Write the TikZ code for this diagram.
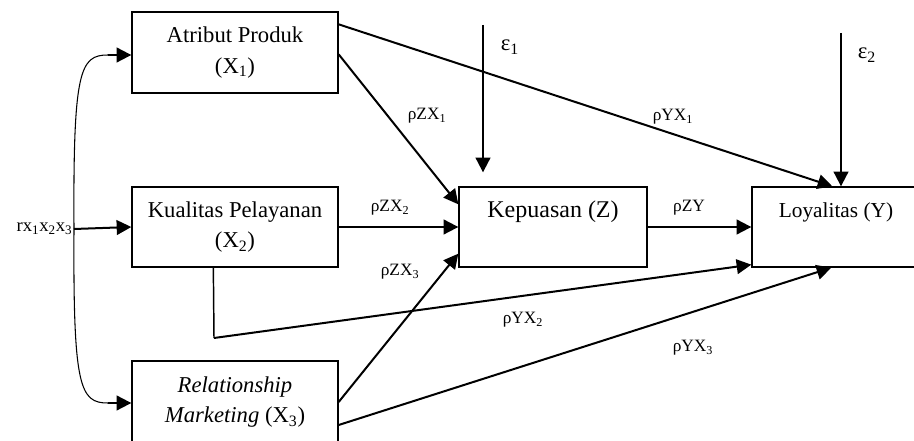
\documentclass[tikz,border=0pt]{standalone}
\usepackage{fontspec}
\setmainfont{Liberation Serif}
\usetikzlibrary{arrows.meta,calc}

\begin{document}
\begin{tikzpicture}[
  x=0.75pt,y=-0.75pt,
  box/.style={draw,line width=1pt,align=center,font=\fontsize{17}{23}\selectfont,inner sep=0pt},
  topbox/.style={text height=12pt,text depth=26pt},
  coef/.style={font=\fontsize{13}{15}\selectfont,inner sep=1pt},
  err/.style={font=\fontsize{17}{19}\selectfont,inner sep=1pt},
  arr/.style={-{Triangle[length=11pt,width=11pt]},line width=1.5pt},
  link/.style={line width=0.8pt}
]
  \useasboundingbox (0,0) rectangle (914,441);
  \fill[white] (0,0) rectangle (914,441);

  % Variables
  \node[box,minimum width=154.5pt,minimum height=60.75pt] (atr) at (235,52.5) {Atribut Produk\\(X\textsubscript{1})};
  \node[box,minimum width=154.5pt,minimum height=60pt] (kua) at (235,227) {Kualitas Pelayanan\\(X\textsubscript{2})};
  \node[box,minimum width=154.5pt,minimum height=61.5pt] (rel) at (235,402) {\textit{Relationship}\\\textit{Marketing} (X\textsubscript{3})};
  \node[box,topbox,font=\fontsize{18}{22}\selectfont,minimum width=141pt,minimum height=60pt] (kep) at (553,227) {Kepuasan (Z)};
  \node[box,topbox,font=\fontsize{16}{20}\selectfont,minimum width=126pt,minimum height=60pt] (loy) at (836,227) {Loyalitas (Y)};

  % Correlation
  \node[coef,font=\fontsize{14}{16}\selectfont,anchor=east] (rx) at (74,229) {rx\textsubscript{1}x\textsubscript{2}x\textsubscript{3}};
  \coordinate (c1) at (108,55);
  \coordinate (c3) at (108,403);
  \draw[link] (rx.east) .. controls (73,70) and (80,55) .. (c1);
  \draw[link] (rx.east) .. controls (73,388) and (80,403) .. (c3);
  \draw[arr] (c1) -- (c1 -| atr.west);
  \draw[arr] (c3) -- (c3 -| rel.west);
  \draw[arr] (rx.east) -- (kua.west);

  % Paths
  \draw[arr] ($(atr.north east)+(0,13)$) -- ($(loy.north west)+(81,0)$);
  \draw[arr] ($(atr.north east)+(0,43)$) -- ($(kep.north west)+(0,18)$);
  \draw[arr] (kua.east) -- (kep.west);
  \draw[arr] (rel.east) -- ($(kep.south west)+(0,-14)$);
  \draw[arr] ($(rel.east)+(0,23)$) -- ($(loy.south west)+(80,0)$);
  \coordinate (kbend) at (214,338);
  \draw[line width=1.1pt] ($(kua.south west)+(82,0)$) -- (kbend);
  \draw[arr] (kbend) -- ($(loy.south west)+(0,-3)$);
  \draw[arr] (kep.east) -- (loy.west);

  % Errors
  \coordinate (e1) at (483,25);
  \coordinate (e2) at (841,33);
  \draw[arr] (e1) -- ($(e1 |- kep.north)+(0,-14)$);
  \draw[arr] (e2) -- (e2 |- loy.north);
  \node[err] (eps1) at (510,47) {ε\textsubscript{1}};
  \node[err] (eps2) at (867,55) {ε\textsubscript{2}};

  % Coefficients
  \node[coef] (pzx1) at (427,116) {ρZX\textsubscript{1}};
  \node[coef] (pyx1) at (673,117) {ρYX\textsubscript{1}};
  \node[coef] (pzx2) at (390,208) {ρZX\textsubscript{2}};
  \node[coef] (pzy) at (689,208) {ρZY};
  \node[coef] (pzx3) at (400,272) {ρZX\textsubscript{3}};
  \node[coef] (pyx2) at (523,320) {ρYX\textsubscript{2}};
  \node[coef] (pyx3) at (693,348) {ρYX\textsubscript{3}};
\end{tikzpicture}
\end{document}
